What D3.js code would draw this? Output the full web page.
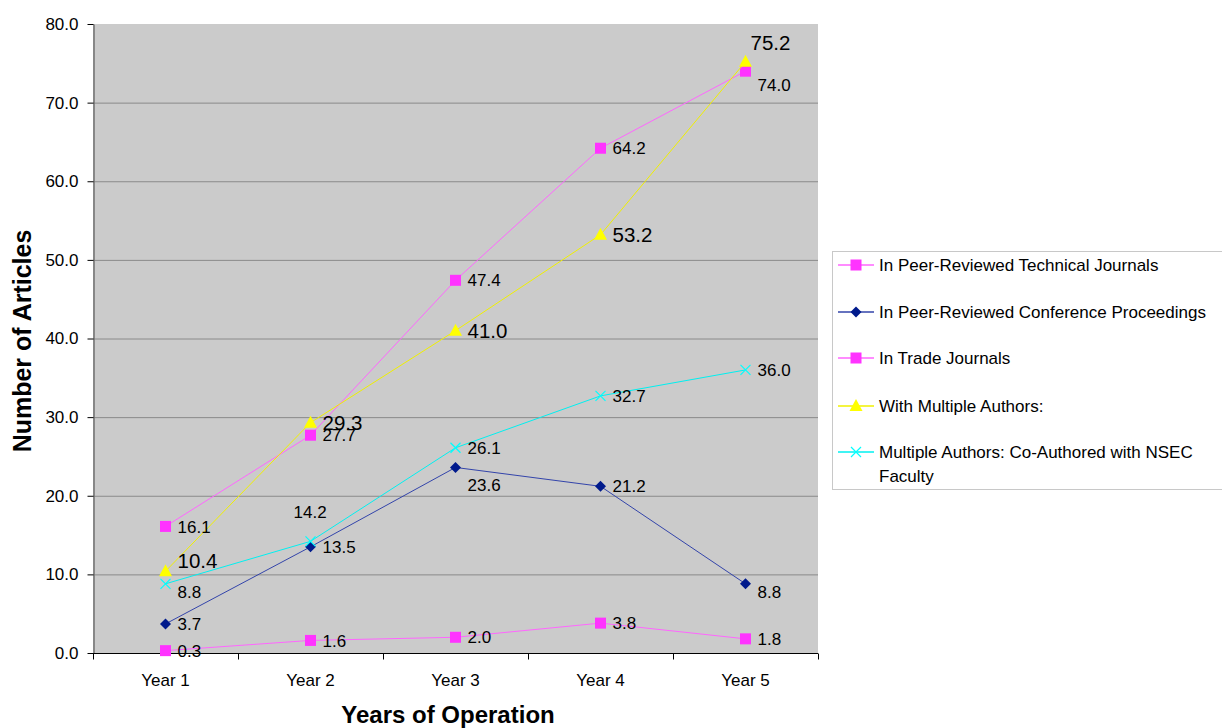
<!DOCTYPE html>
<html>
<head>
<meta charset="utf-8">
<script src="https://cdn.jsdelivr.net/npm/d3@7"></script>
<style>
  body { margin: 0; background: #ffffff; }
  svg { display: block; font-family: "Liberation Sans", Arial, sans-serif; }
</style>
</head>
<body>
<svg id="chart" width="1222" height="728"></svg>
<script>
// Article counts per year of operation
const years = ["Year 1", "Year 2", "Year 3", "Year 4", "Year 5"];
const peerTechnical = [16.1, 27.7, 47.4, 64.2, 74.0];
const peerConference = [3.7, 13.5, 23.6, 21.2, 8.8];
const tradeJournals = [0.3, 1.6, 2.0, 3.8, 1.8];
const multipleAuthors = [10.4, 29.3, 41.0, 53.2, 75.2];
const coAuthoredNSEC = [8.8, 14.2, 26.1, 32.7, 36.0];
const yTicks = [0, 10, 20, 30, 40, 50, 60, 70, 80];

const seriesNames = [
  "In Peer-Reviewed Technical Journals",
  "In Peer-Reviewed Conference Proceedings",
  "In Trade Journals",
  "With Multiple Authors:",
  "Multiple Authors: Co-Authored with NSEC Faculty"
];

// Label placement codes: r = right, lr = right and a little lower, br = below right,
// bb = further below right, ar = above right, a = above, al = above left
const series = [
  { name: seriesNames[0], values: peerTechnical, line: "#ff66ff", fill: "#ff33ff", marker: "square",
    place: ["r", "r", "r", "r", "br"], big: false },
  { name: seriesNames[1], values: peerConference, line: "#3344aa", fill: "#001a8c", marker: "diamond",
    place: ["r", "r", "bb", "r", "lr"], big: false },
  { name: seriesNames[2], values: tradeJournals, line: "#ff66ff", fill: "#ff33ff", marker: "square",
    place: ["r", "r", "r", "r", "r"], big: false },
  { name: seriesNames[3], values: multipleAuthors, line: "#f0f000", fill: "#ffff00", marker: "triangle",
    place: ["ar", "r", "r", "r", "a"], big: true },
  { name: seriesNames[4], values: coAuthoredNSEC, line: "#00f0f0", fill: "#00ffff", marker: "x",
    place: ["lr", "al", "r", "r", "r"], big: false }
];

const FONT = 17;
const BIG_FONT = 20.5;

const svg = d3.select("#chart");
const margin = { left: 93, top: 24, right: 818, bottom: 653 };

const x = d3.scaleBand().domain(years).range([margin.left, margin.right]);
const y = d3.scaleLinear().domain([0, 80]).range([margin.bottom, margin.top]);

// Plot background
svg.append("rect")
  .attr("x", margin.left).attr("y", margin.top)
  .attr("width", margin.right - margin.left)
  .attr("height", margin.bottom - margin.top)
  .attr("fill", "#cbcbcb");

// Horizontal gridlines
svg.append("g").selectAll("line")
  .data(yTicks.filter(d => d > 0 && d < 80))
  .join("line")
  .attr("x1", margin.left).attr("x2", margin.right)
  .attr("y1", d => y(d) + 0.5).attr("y2", d => y(d) + 0.5)
  .attr("stroke", "#8a8a8a").attr("stroke-width", 1);

// Y axis
const yAxis = svg.append("g")
  .attr("transform", `translate(${margin.left + 0.5},0)`)
  .call(d3.axisLeft(y).tickValues(yTicks).tickFormat(d3.format(".1f")).tickSize(6).tickSizeOuter(0));
yAxis.select(".domain").attr("stroke", "#707070").attr("stroke-width", 1.5);
yAxis.selectAll(".tick line").attr("stroke", "#000");
yAxis.selectAll("text").attr("font-size", FONT).attr("fill", "#000")
  .attr("font-family", "Liberation Sans, Arial, sans-serif").attr("x", -15);

// X axis with ticks on category boundaries
const xAxisG = svg.append("g").attr("transform", `translate(0,${margin.bottom + 0.5})`);
xAxisG.append("line")
  .attr("x1", margin.left).attr("x2", margin.right)
  .attr("stroke", "#000").attr("stroke-width", 1);
const boundaries = years.map(d => x(d)).concat([x(years[years.length - 1]) + x.bandwidth()]);
xAxisG.selectAll("line.tk").data(boundaries).join("line").attr("class", "tk")
  .attr("x1", d => Math.round(d) + 0.5).attr("x2", d => Math.round(d) + 0.5)
  .attr("y1", 0).attr("y2", 6).attr("stroke", "#000");
xAxisG.selectAll("text").data(years).join("text")
  .attr("x", d => x(d) + x.bandwidth() / 2)
  .attr("y", 32)
  .attr("text-anchor", "middle")
  .attr("font-size", FONT)
  .text(d => d);

// Axis titles
svg.append("text")
  .attr("x", 448).attr("y", 723)
  .attr("text-anchor", "middle")
  .attr("font-size", 24).attr("font-weight", "bold")
  .text("Years of Operation");
svg.append("text")
  .attr("transform", "translate(31,341) rotate(-90)")
  .attr("text-anchor", "middle")
  .attr("font-size", 25).attr("font-weight", "bold")
  .text("Number of Articles");

function drawMarker(g, type, cx, cy, s) {
  if (type === "square") {
    g.append("rect").attr("x", cx - 5.5).attr("y", cy - 5.5).attr("width", 11).attr("height", 11)
      .attr("fill", s.fill);
  } else if (type === "diamond") {
    g.append("path").attr("d", `M${cx},${cy - 5.5}L${cx + 5.5},${cy}L${cx},${cy + 5.5}L${cx - 5.5},${cy}Z`)
      .attr("fill", s.fill);
  } else if (type === "triangle") {
    g.append("path").attr("d", `M${cx},${cy - 7}L${cx + 6.5},${cy + 5}L${cx - 6.5},${cy + 5}Z`)
      .attr("fill", s.fill);
  } else if (type === "x") {
    g.append("path").attr("d", `M${cx - 5},${cy - 5}L${cx + 5},${cy + 5}M${cx + 5},${cy - 5}L${cx - 5},${cy + 5}`)
      .attr("stroke", s.fill).attr("stroke-width", 1.2).attr("fill", "none");
  }
}

const cx = d => x(d) + x.bandwidth() / 2;
const lineGen = (vals) => d3.line().x((d, i) => cx(years[i])).y(d => y(d))(vals);

// Series lines and markers
series.forEach(s => {
  const g = svg.append("g");
  g.append("path").attr("d", lineGen(s.values))
    .attr("fill", "none").attr("stroke", s.line).attr("stroke-width", 1);
  s.values.forEach((v, i) => drawMarker(g, s.marker, cx(years[i]), y(v), s));
});

// Data labels
series.forEach(s => {
  const fs = s.big ? BIG_FONT : FONT;
  s.values.forEach((v, i) => {
    const px = cx(years[i]), py = y(v);
    let lx = px + 12, ly = py + fs * 0.36;
    const p = s.place[i];
    if (p === "lr") { ly = py + 14; }
    if (p === "br") { ly = py + 20; }
    if (p === "bb") { ly = py + 24; }
    if (p === "ar") { ly = py - 3; }
    if (p === "a") { lx = px + 5; ly = py - 12; }
    if (p === "al") { lx = px - 17; ly = py - 23; }
    svg.append("text")
      .attr("x", lx).attr("y", ly)
      .attr("font-size", fs).attr("fill", "#000")
      .text(d3.format(".1f")(v));
  });
});

// Legend
const legend = svg.append("g");
legend.append("rect")
  .attr("x", 832.5).attr("y", 251.5).attr("width", 395).attr("height", 238)
  .attr("fill", "#fff").attr("stroke", "#c8c8c8").attr("stroke-width", 1);
const legendRows = [265, 312, 358, 406, 452];
series.forEach((s, i) => {
  const ly = legendRows[i];
  const g = legend.append("g");
  g.append("line").attr("x1", 838).attr("x2", 874).attr("y1", ly).attr("y2", ly)
    .attr("stroke", s.line).attr("stroke-width", 1.5);
  drawMarker(g, s.marker, 856, ly, s);
  const t = g.append("text").attr("x", 879).attr("y", ly + 6).attr("font-size", FONT);
  if (i === 4) {
    t.append("tspan").attr("x", 879).text("Multiple Authors: Co-Authored with NSEC");
    t.append("tspan").attr("x", 879).attr("dy", 24).text("Faculty");
  } else {
    t.text(s.name);
  }
});
</script>
</body>
</html>
